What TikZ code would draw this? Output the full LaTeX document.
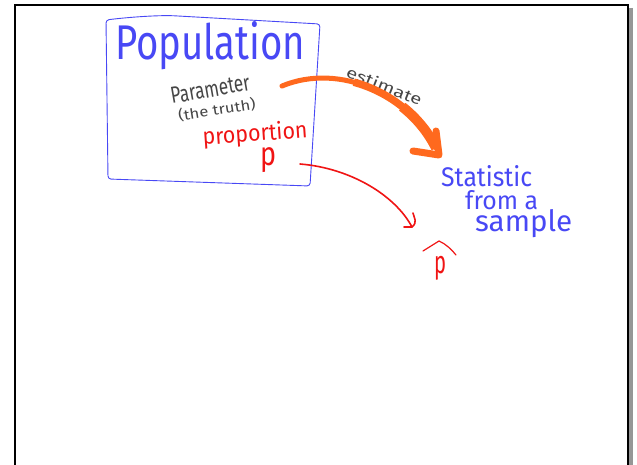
\documentclass[tikz,border=0pt]{standalone}
\usepackage{fontspec}
\usepackage{graphicx}
\newfontfamily\hand{Fira Sans}
\definecolor{penblue}{RGB}{72,72,245}
\definecolor{penred}{RGB}{240,20,20}
\definecolor{penorange}{RGB}{255,105,30}
\definecolor{pengray}{RGB}{70,70,70}
\definecolor{shadowgray}{RGB}{150,150,150}
\begin{document}
\begin{tikzpicture}[x=1pt,y=1pt,
  hw/.style={inner sep=0pt, anchor=base west},
  hwtop/.style={inner sep=0pt, anchor=north west},
  orangestroke/.style={penorange, line cap=round, line join=round},
  redstroke/.style={penred, line width=1.6pt, line cap=round, line join=round}]
\useasboundingbox (0,0) rectangle (637,-465);
\fill[white] (0,0) rectangle (637,-465);
% board frame
\draw[shadowgray, line width=3.5pt] (631,-8) -- (631,-465);
\draw[black, line width=2.5pt] (15,-465) -- (15,-5) -- (628,-5) -- (628,-465);
% population box
\draw[penblue, line width=0.9pt, rounded corners=3pt]
  (106,-20) .. controls (130,-17) and (160,-15) .. (178,-16) -- (320,-24) -- (310,-186) -- (108,-179) -- cycle;
% texts
\node[hw, penblue] (pop) at (115,-60) {\resizebox{190pt}{38pt}{\hand Population}};
\node[hw, pengray, rotate=10] (param) at (172,-104) {\resizebox{80pt}{16pt}{\hand Parameter}};
\node[hw, pengray, rotate=9] (truth) at (179,-121) {\resizebox{78pt}{12pt}{\hand (the truth)}};
\node[hw, penred, rotate=4] (prop) at (203,-145) {\resizebox{105pt}{18pt}{\hand proportion}};
\node[hwtop, penred] (pp) at (260,-147) {\resizebox*{16pt}{25pt}{\hand p}};
\node[hw, penblue] (stat) at (441,-187) {\resizebox{91pt}{21pt}{\hand Statistic}};
\node[hw, penblue] (froma) at (465,-209) {\resizebox{73pt}{19pt}{\hand from a}};
\node[hw, penblue] (sample) at (475,-232) {\resizebox{97pt}{22pt}{\hand sample}};
\node[hwtop, penred] (phat) at (434,-256) {\resizebox*{12pt}{24pt}{\hand p}};
% hat over p
\draw[penred, line width=1.2pt, line cap=round, line join=round]
  (423,-251) -- (439,-241)
  .. controls (446,-244) and (452,-250) .. (456,-255);
% estimate label
\node[inner sep=0pt, anchor=base west, pengray, rotate=-22] (est) at (345,-76)
  {\resizebox{80pt}{12pt}{\hand estimate}};
% orange estimate arrow
\coordinate (estStart) at (282,-86);
\coordinate (estMid) at (353.8,-82.2);
\coordinate (estLate) at (402.25,-106.7);
\coordinate (estEnd) at (436,-148);
\coordinate (estTip) at (439,-155);
\draw[orangestroke, line width=5pt] (estStart) .. controls (340,-62) and (410,-95) .. (estEnd);
\draw[orangestroke, line width=7.5pt, line cap=butt] (estMid) .. controls (389,-91.6) and (420.4,-116.2) .. (estEnd);
\draw[orangestroke, line width=10pt, line cap=butt] (estLate) .. controls (416.45,-118) and (428.2,-132.1) .. (estEnd);
\draw[orangestroke, line width=7pt] (436,-131) -- (estTip) -- (413,-151);
% red arrow p -> p hat
\coordinate (redStart) at (300,-164);
\coordinate (redTip) at (412,-227);
\draw[redstroke] (redStart) .. controls (350,-168) and (395,-195) .. (redTip);
\draw[redstroke] (413,-213) .. controls (414,-218) and (418,-222) .. (redTip) -- (404,-227);
\end{tikzpicture}
\end{document}
